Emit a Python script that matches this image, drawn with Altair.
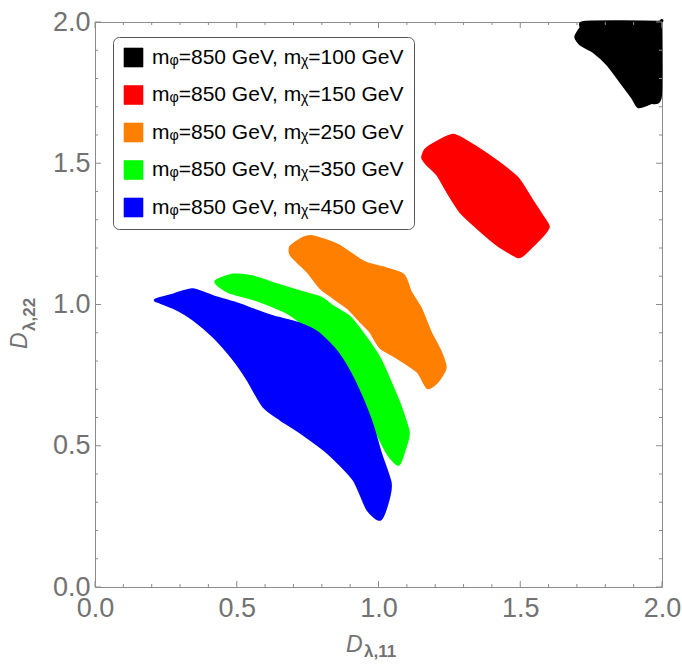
import altair as alt
import pandas as pd

# ---- series (drawn in this order, later ones on top) ----
series_labels = [
    "mᵩ=850 GeV, mᵪ=100 GeV",
    "mᵩ=850 GeV, mᵪ=150 GeV",
    "mᵩ=850 GeV, mᵪ=250 GeV",
    "mᵩ=850 GeV, mᵪ=350 GeV",
    "mᵩ=850 GeV, mᵪ=450 GeV",
]
series_colors = ["#000000", "#ff0000", "#ff8000", "#00ff00", "#0000ff"]

# outline of each scanned region in the (D_λ,11, D_λ,22) plane
black_x = [1.695, 1.713, 1.730, 1.984, 1.995, 1.995, 1.960, 1.917, 1.896, 1.853, 1.808, 1.758, 1.713]
black_y = [1.947, 1.979, 2.000, 2.000, 1.990, 1.735, 1.713, 1.699, 1.731, 1.789, 1.849, 1.895, 1.920]

red_x = [1.265, 1.349, 1.420, 1.490, 1.536, 1.582, 1.600, 1.582, 1.547, 1.511, 1.490,
         1.420, 1.349, 1.289, 1.243, 1.208, 1.173, 1.155, 1.166, 1.201]
red_y = [1.600, 1.554, 1.505, 1.448, 1.378, 1.307, 1.275, 1.247, 1.211, 1.176, 1.169,
         1.211, 1.271, 1.328, 1.399, 1.459, 1.494, 1.519, 1.548, 1.572]

orange_x = [0.690, 0.690, 0.735, 0.771, 0.855, 0.947, 1.018, 1.088, 1.113, 1.148, 1.183, 1.219, 1.236,
            1.208, 1.173, 1.138, 1.067, 1.007, 0.972, 0.937, 0.891, 0.841, 0.795, 0.750, 0.714]
orange_y = [1.177, 1.205, 1.236, 1.240, 1.211, 1.151, 1.130, 1.105, 1.045, 0.988, 0.903, 0.833, 0.776,
            0.727, 0.705, 0.762, 0.811, 0.847, 0.903, 0.939, 0.988, 1.024, 1.059, 1.116, 1.151]

green_x = [0.425, 0.489, 0.559, 0.644, 0.725, 0.795, 0.841, 0.901, 0.961, 1.007, 1.049, 1.078,
           1.106, 1.092, 1.071, 1.035, 0.989, 0.944, 0.884, 0.795, 0.690, 0.566, 0.471]
green_y = [1.081, 1.105, 1.098, 1.070, 1.045, 1.024, 0.992, 0.953, 0.875, 0.804, 0.709, 0.638,
           0.546, 0.486, 0.433, 0.468, 0.557, 0.663, 0.769, 0.875, 0.964, 1.017, 1.045]

blue_x = [0.213, 0.277, 0.344, 0.418, 0.489, 0.559, 0.630, 0.714, 0.785, 0.855, 0.912, 0.972, 1.007,
          1.042, 1.035, 1.007, 0.961, 0.912, 0.820, 0.725, 0.654, 0.594, 0.538, 0.489, 0.418,
          0.347, 0.291, 0.231]
blue_y = [1.017, 1.035, 1.053, 1.028, 1.007, 0.982, 0.957, 0.935, 0.901, 0.830, 0.734, 0.593, 0.476,
          0.370, 0.310, 0.239, 0.274, 0.380, 0.476, 0.547, 0.593, 0.639, 0.734, 0.805, 0.886,
          0.947, 0.982, 1.007]

clouds = [
    (black_x, black_y),
    (red_x, red_y),
    (orange_x, orange_y),
    (green_x, green_y),
    (blue_x, blue_y),
]

# ---- axis ticks ----
major_ticks = [0.0, 0.5, 1.0, 1.5, 2.0]
minor_ticks = [0.1, 0.2, 0.3, 0.4, 0.6, 0.7, 0.8, 0.9, 1.1, 1.2, 1.3, 1.4,
               1.6, 1.7, 1.8, 1.9]

W, H = 567, 565
FONT = "Liberation Sans"
GRAY = "#727272"
FRAME = "#8c8c8c"

xscale = alt.Scale(domain=[0, 2], nice=False, zero=False)
yscale = alt.Scale(domain=[0, 2], nice=False, zero=False)
color_scale = alt.Scale(domain=series_labels, range=series_colors)

x_axis = alt.Axis(values=major_ticks, format=".1f", ticks=False, grid=False, title=None,
                  labelFont=FONT, labelFontSize=27, labelColor=GRAY, labelPadding=8,
                  labelFlush=False, labelOverlap=False, domainColor=FRAME)
y_axis = alt.Axis(values=major_ticks, format=".1f", ticks=False, grid=False, title=None,
                  labelFont=FONT, labelFontSize=27, labelColor=GRAY, labelPadding=5,
                  labelFlush=False, labelOverlap=False, domainColor=FRAME)

legend = alt.Legend(
    title=None, orient="none", legendX=18, legendY=15,
    symbolType="square", symbolSize=361, symbolStrokeWidth=0.6, symbolStrokeColor="#555555",
    symbolOpacity=1,
    labelFont=FONT, labelFontSize=21, labelColor="#000000", labelLimit=400, labelOffset=8,
    rowPadding=14.5, padding=10, fillColor="#ffffff", strokeColor="#555555",
    cornerRadius=6,
)


def cloud_layer(label, xs, ys):
    df = pd.DataFrame({
        "x": xs,
        "y": ys,
        "series": [label] * len(xs),
        "k": list(range(len(xs))),
    })
    return alt.Chart(df).mark_line(
        filled=True, strokeWidth=2.5, strokeJoin="round", interpolate="cardinal-closed", tension=0.3
    ).encode(
        x=alt.X("x:Q", scale=xscale, axis=x_axis),
        y=alt.Y("y:Q", scale=yscale, axis=y_axis),
        color=alt.Color("series:N", scale=color_scale, legend=legend),
        stroke=alt.Stroke("series:N", scale=color_scale, legend=None),
        order=alt.Order("k:Q"),
    )


def tick_layers(values, length):
    df = pd.DataFrame({"v": values})
    rule = alt.Chart(df).mark_rule(color=FRAME, strokeWidth=1)
    xe = alt.X("v:Q", scale=xscale, axis=x_axis)
    ye = alt.Y("v:Q", scale=yscale, axis=y_axis)
    return [
        rule.encode(x=xe, y=alt.value(H), y2=alt.value(H - length)),
        rule.encode(x=xe, y=alt.value(0), y2=alt.value(length)),
        rule.encode(y=ye, x=alt.value(0), x2=alt.value(length)),
        rule.encode(y=ye, x=alt.value(W), x2=alt.value(W - length)),
    ]


def text_layer(s, x, y, size, italic=False, bold=False, angle=0):
    df = pd.DataFrame({"t": [s]})
    return alt.Chart(df).mark_text(
        align="left", baseline="alphabetic", font=FONT, fontSize=size, color=GRAY,
        fontStyle="italic" if italic else "normal",
        fontWeight="bold" if bold else "normal", angle=angle,
    ).encode(x=alt.value(x), y=alt.value(y), text="t:N")


layers = [cloud_layer(lbl, xs, ys) for lbl, (xs, ys) in zip(series_labels, clouds)]
layers += tick_layers(major_ticks, 6)
layers += tick_layers(minor_ticks, 3)

# axis titles D_{λ,11} and D_{λ,22}
layers += [
    text_layer("D", 251, 630, 23, italic=True),
    text_layer("λ,11", 269, 635, 17, bold=True),
    text_layer("D", -68, 327, 23, italic=True, angle=270),
    text_layer("λ,22", -60, 309, 17, bold=True, angle=270),
]

chart = alt.layer(*layers).properties(
    width=W, height=H,
    autosize=alt.AutoSizeParams(type="none"),
    padding={"left": 95, "top": 22, "right": 20, "bottom": 77},
    background="#ffffff",
).configure_view(stroke=FRAME, strokeWidth=1)

chart.save("out.html", embed_options={"renderer": "svg", "actions": False})
